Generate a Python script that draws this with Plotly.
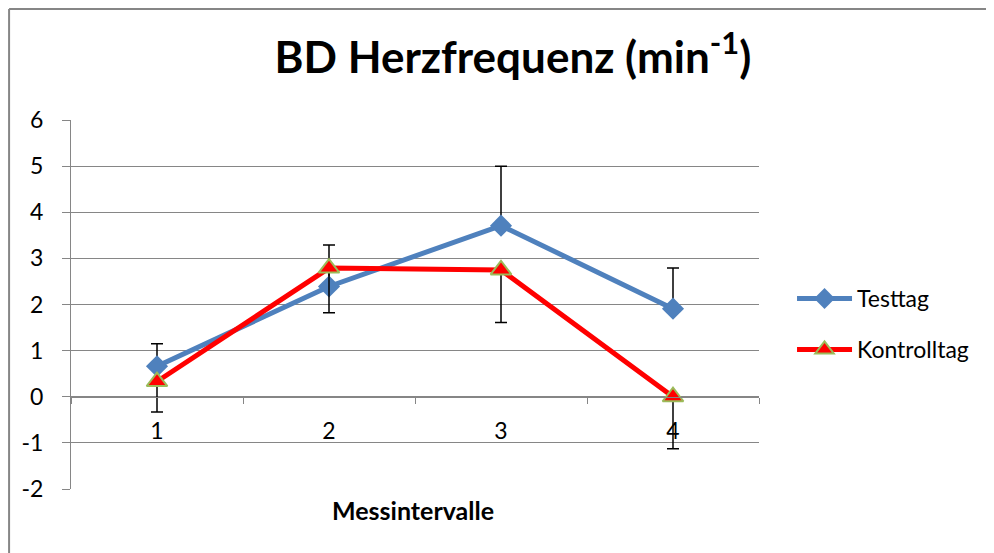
import plotly.graph_objects as go

# Messintervalle (Kategorien)
intervals = ["1", "2", "3", "4"]

# Mittelwerte
testtag = [0.66, 2.39, 3.71, 1.91]
kontrolltag = [0.33, 2.79, 2.75, 0.0]

# Fehlerbalken: Testtag nur nach oben, Kontrolltag nur nach unten
testtag_err_plus = [0.49, 0.90, 1.29, 0.88]
kontrolltag_err_minus = [0.66, 0.97, 1.14, 1.13]

y_ticks = [-2, -1, 0, 1, 2, 3, 4, 5, 6]
y_ticktext = ["-2", "-1", "0", "1", "2", "3", "4", "5", "6"]

FONT = "Lato, 'Open Sans', sans-serif"
GRID = "#868686"

fig = go.Figure()
fig.add_trace(go.Scatter(
    x=intervals, y=testtag, name="Testtag", mode="lines+markers",
    legendgroup="a",
    line=dict(color="#4F81BD", width=5),
    marker=dict(symbol="diamond", size=17, color="#4F81BD"),
    error_y=dict(type="data", symmetric=False, array=testtag_err_plus,
                 arrayminus=[0] * len(testtag), color="black",
                 thickness=1.5, width=6),
))
fig.add_trace(go.Scatter(
    x=intervals, y=kontrolltag, name="Kontrolltag", mode="lines+markers",
    legendgroup="b",
    line=dict(color="#FF0000", width=5),
    marker=dict(symbol="triangle-up", size=18, color="#FF0000",
                line=dict(color="#9BBB59", width=2)),
    error_y=dict(type="data", symmetric=False, array=[0] * len(kontrolltag),
                 arrayminus=kontrolltag_err_minus, color="black",
                 thickness=1.5, width=6),
))

# page has an 8px body margin, so plot area is placed 8px up/left of target
border = dict(color=GRID, width=2)
fig.update_layout(
    width=994, height=553,
    margin=dict(l=63, r=243, t=112, b=72),
    paper_bgcolor="white", plot_bgcolor="white",
    font=dict(family=FONT, size=22, color="black"),
    title=dict(text="<b>BD Herzfrequenz (min<sup>-1</sup>)</b>",
               font=dict(size=44, family=FONT), x=0.508, xanchor="center",
               y=0.9105, yanchor="middle"),
    legend=dict(x=1.048, y=0.447, xanchor="left", yanchor="middle",
                traceorder="grouped", tracegroupgap=18, itemwidth=55,
                font=dict(size=23)),
    shapes=[
        dict(type="line", xref="paper", yref="paper",
             x0=-0.090, x1=1.5, y0=1.3008, y1=1.3008, line=border),
        dict(type="line", xref="paper", yref="paper",
             x0=-0.090, x1=-0.090, y0=-0.5, y1=1.3008, line=border),
    ],
    annotations=[dict(text="<b>Messintervalle</b>", xref="paper", yref="paper",
                      x=0.497, y=-0.058, showarrow=False, yanchor="middle",
                      font=dict(size=25))],
)
fig.update_xaxes(
    type="category", range=[-0.5, 3.5], anchor="free", position=0.25,
    automargin=False,
    showline=True, linecolor=GRID, linewidth=1,
    ticks="outside", tickson="boundaries", ticklen=6, tickcolor=GRID,
    ticklabelstandoff=14,
    showgrid=False, zeroline=False, tickfont=dict(size=23),
)
fig.update_yaxes(
    range=[-2, 6], tickvals=y_ticks, ticktext=y_ticktext, automargin=False,
    showline=True, linecolor=GRID, linewidth=1,
    ticks="outside", ticklen=8, tickcolor=GRID, ticklabelstandoff=14,
    showgrid=True, gridcolor=GRID, gridwidth=1,
    zeroline=True, zerolinecolor=GRID, zerolinewidth=1,
    tickfont=dict(size=23),
)

fig.write_html("out.html")
